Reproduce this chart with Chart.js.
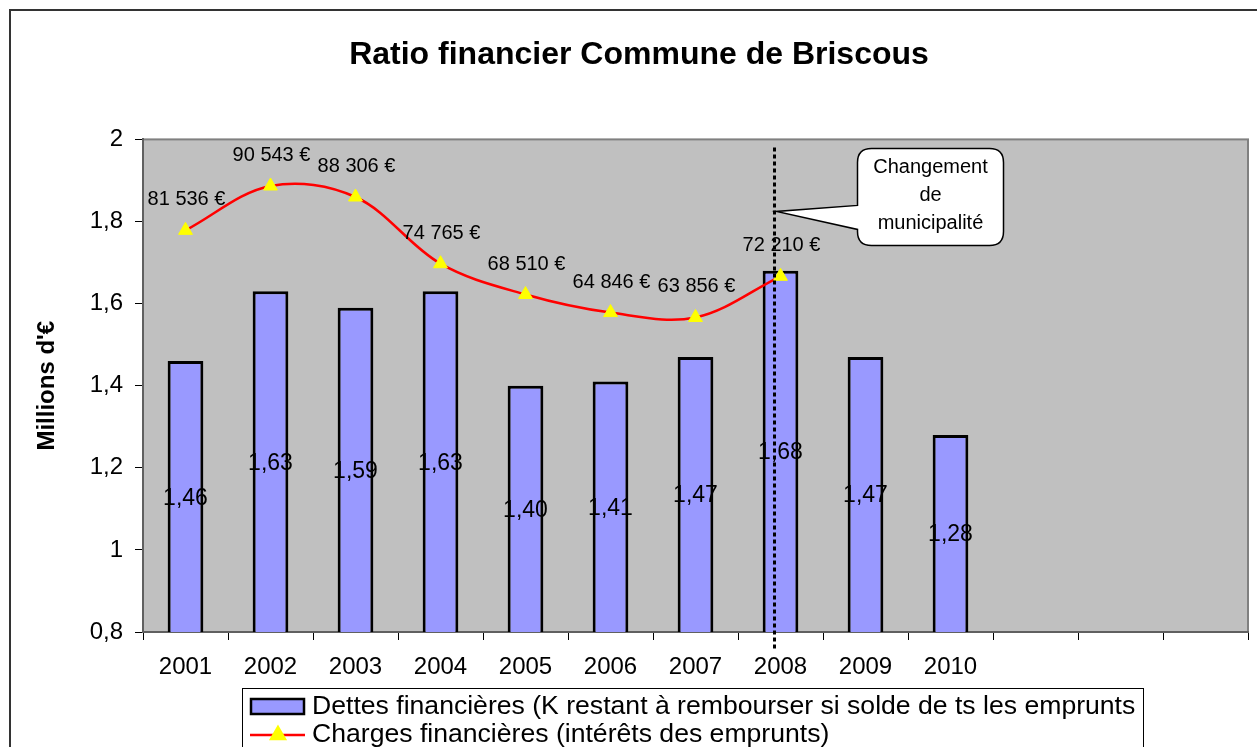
<!DOCTYPE html>
<html lang="fr">
<head>
<meta charset="utf-8">
<title>Ratio financier Commune de Briscous</title>
<script src="https://cdn.jsdelivr.net/npm/chart.js@4.4.1/dist/chart.umd.min.js"></script>
<style>
  html, body { margin: 0; padding: 0; background: #fff; }
  #cadre { position: relative; width: 1257px; height: 747px; }
</style>
</head>
<body>
<div id="cadre"><canvas id="graphiqueRatio"></canvas></div>
<script>
// Données
const annees = ['2001', '2002', '2003', '2004', '2005', '2006', '2007', '2008', '2009', '2010', '', '', ''];
const dettes = [1.46, 1.63, 1.59, 1.63, 1.40, 1.41, 1.47, 1.68, 1.47, 1.28];
const charges = [81536, 90543, 88306, 74765, 68510, 64846, 63856, 72210];
const graduationsY = ['0,8', '1', '1,2', '1,4', '1,6', '1,8', '2'];
const libelleDettes = 'Dettes financières (K restant à rembourser si solde de ts les emprunts';
const libelleCharges = 'Charges financières (intérêts des emprunts)';
const texteBulle = ['Changement', 'de', 'municipalité'];
const anneeChangement = '2008';

const police = 'Arial, "Liberation Sans", sans-serif';
Chart.defaults.font.family = police;
Chart.defaults.color = '#000';

function formatDette(v) {
    return v.toFixed(2).replace('.', ',');
}
function formatEuro(v) {
    return String(v).replace(/\B(?=(\d{3})+(?!\d))/g, ' ') + ' €';
}

// Fond gris de la zone de tracé + cadre extérieur
const fondGraphique = {
    id: 'fondGraphique',
    beforeDraw(chart) {
        const ctx = chart.ctx;
        const a = chart.chartArea;
        ctx.save();
        ctx.strokeStyle = '#333';
        ctx.lineWidth = 2;
        ctx.beginPath();
        ctx.moveTo(10, chart.height + 5);
        ctx.lineTo(10, 10);
        ctx.lineTo(chart.width + 5, 10);
        ctx.stroke();
        ctx.fillStyle = '#C0C0C0';
        ctx.fillRect(a.left, a.top, a.right - a.left, a.bottom - a.top);
        ctx.strokeStyle = '#808080';
        ctx.lineWidth = 2;
        ctx.strokeRect(a.left, a.top, a.right - a.left, a.bottom - a.top);
        ctx.restore();
    }
};

// Etiquettes des valeurs
const etiquettes = {
    id: 'etiquettes',
    afterDatasetsDraw(chart) {
        const ctx = chart.ctx;
        const a = chart.chartArea;
        ctx.save();
        ctx.fillStyle = '#000';
        ctx.textAlign = 'center';
        ctx.textBaseline = 'alphabetic';

        ctx.font = '23px ' + police;
        chart.getDatasetMeta(0).data.forEach((barre, i) => {
            if (dettes[i] == null) return;
            const base = Math.min(barre.base, a.bottom);
            const y = (barre.y + base) / 2;
            ctx.fillText(formatDette(dettes[i]), barre.x, y + 8);
        });

        ctx.font = '20px ' + police;
        chart.getDatasetMeta(1).data.forEach((pt, i) => {
            if (charges[i] == null) return;
            ctx.fillText(formatEuro(charges[i]), pt.x + 1, pt.y - 25);
        });
        ctx.restore();
    }
};

// Trait pointillé, bulle et légende encadrée
const annotations = {
    id: 'annotations',
    afterDraw(chart) {
        const ctx = chart.ctx;
        const xs = chart.scales.x;
        const a = chart.chartArea;
        const xd = xs.getPixelForValue(annees.indexOf(anneeChangement)) - 6;

        ctx.save();
        // pointillés
        ctx.strokeStyle = '#000';
        ctx.lineWidth = 3;
        ctx.setLineDash([4, 3]);
        ctx.beginPath();
        ctx.moveTo(xd, a.top + 8);
        ctx.lineTo(xd, a.bottom + 18);
        ctx.stroke();
        ctx.setLineDash([]);

        // bulle
        const bx = xd + 83, by = a.top + 9, bw = 146, bh = 97, r = 14;
        ctx.beginPath();
        ctx.moveTo(bx + r, by);
        ctx.lineTo(bx + bw - r, by);
        ctx.quadraticCurveTo(bx + bw, by, bx + bw, by + r);
        ctx.lineTo(bx + bw, by + bh - r);
        ctx.quadraticCurveTo(bx + bw, by + bh, bx + bw - r, by + bh);
        ctx.lineTo(bx + r, by + bh);
        ctx.quadraticCurveTo(bx, by + bh, bx, by + bh - r);
        ctx.lineTo(bx, by + 81);
        ctx.lineTo(xd + 2, by + 63);
        ctx.lineTo(bx, by + 57);
        ctx.lineTo(bx, by + r);
        ctx.quadraticCurveTo(bx, by, bx + r, by);
        ctx.closePath();
        ctx.fillStyle = '#fff';
        ctx.fill();
        ctx.lineWidth = 1.5;
        ctx.strokeStyle = '#000';
        ctx.stroke();

        ctx.fillStyle = '#000';
        ctx.font = '20px ' + police;
        ctx.textAlign = 'center';
        ctx.textBaseline = 'alphabetic';
        texteBulle.forEach((t, i) => {
            ctx.fillText(t, bx + bw / 2, by + 25 + i * 28);
        });

        // légende
        const ds = chart.data.datasets;
        const lx = 242, ly = 688;
        ctx.lineWidth = 1;
        ctx.strokeStyle = '#000';
        ctx.strokeRect(lx + 0.5, ly + 0.5, 901, 80);

        ctx.fillStyle = ds[0].backgroundColor;
        ctx.fillRect(251, 699, 53, 15);
        ctx.lineWidth = 2.5;
        ctx.strokeRect(251, 699, 53, 15);

        ctx.strokeStyle = ds[1].borderColor;
        ctx.lineWidth = 2.5;
        ctx.beginPath();
        ctx.moveTo(250, 735);
        ctx.lineTo(305, 735);
        ctx.stroke();
        ctx.fillStyle = ds[1].pointBackgroundColor;
        ctx.strokeStyle = ds[1].pointBorderColor;
        Chart.helpers.drawPoint(ctx, { pointStyle: 'triangle', radius: 8, borderWidth: 1 }, 278, 735);

        ctx.fillStyle = '#000';
        ctx.font = '26.6px ' + police;
        ctx.textAlign = 'left';
        ctx.fillText(ds[0].label, 312, 714);
        ctx.fillText(ds[1].label, 312, 742);
        ctx.restore();
    }
};

const ctxRatio = document.getElementById('graphiqueRatio').getContext('2d');

new Chart(ctxRatio, {
    data: {
        labels: annees,
        datasets: [{
            type: 'bar',
            label: libelleDettes,
            data: dettes,
            yAxisID: 'y',
            backgroundColor: '#9999FF',
            borderColor: '#000',
            borderWidth: 3,
            barPercentage: 0.42,
            categoryPercentage: 1,
            order: 2
        }, {
            type: 'line',
            label: libelleCharges,
            data: charges,
            yAxisID: 'y2',
            borderColor: '#FF0000',
            borderWidth: 2.5,
            tension: 0.35,
            pointStyle: 'triangle',
            pointRadius: 8,
            pointBackgroundColor: '#FFFF00',
            pointBorderColor: '#FFFF00',
            pointBorderWidth: 1,
            order: 1
        }]
    },
    options: {
        responsive: true,
        maintainAspectRatio: false,
        animation: false,
        layout: {
            padding: { left: 30, right: 9, top: 0, bottom: 55 }
        },
        plugins: {
            legend: { display: false },
            tooltip: { enabled: false },
            title: {
                display: true,
                text: 'Ratio financier Commune de Briscous',
                color: '#000',
                font: { size: 32, weight: 'bold' },
                padding: { top: 36, bottom: 65 }
            }
        },
        scales: {
            x: {
                offset: true,
                grid: {
                    offset: true,
                    drawOnChartArea: false,
                    tickLength: 8,
                    color: '#000'
                },
                border: { color: '#606060', width: 2 },
                ticks: {
                    font: { size: 24 },
                    color: '#000',
                    padding: 13,
                    maxRotation: 0,
                    autoSkip: false
                },
                afterFit(scale) { scale.height = 60; }
            },
            y: {
                position: 'left',
                min: 0.8,
                max: 2,
                grid: {
                    drawOnChartArea: false,
                    tickLength: 8,
                    color: '#000'
                },
                border: { color: '#606060', width: 2 },
                ticks: {
                    stepSize: 0.2,
                    font: { size: 24 },
                    color: '#000',
                    padding: 12,
                    callback: (v, i) => graduationsY[i]
                },
                title: {
                    display: true,
                    text: "Millions d'€",
                    color: '#000',
                    font: { size: 24, weight: 'bold' },
                    padding: { top: 3, bottom: 0 }
                },
                afterFit(scale) { scale.width = 113; }
            },
            y2: {
                display: false,
                min: 0,
                max: 100000
            }
        }
    },
    plugins: [fondGraphique, etiquettes, annotations]
});
</script>
</body>
</html>
